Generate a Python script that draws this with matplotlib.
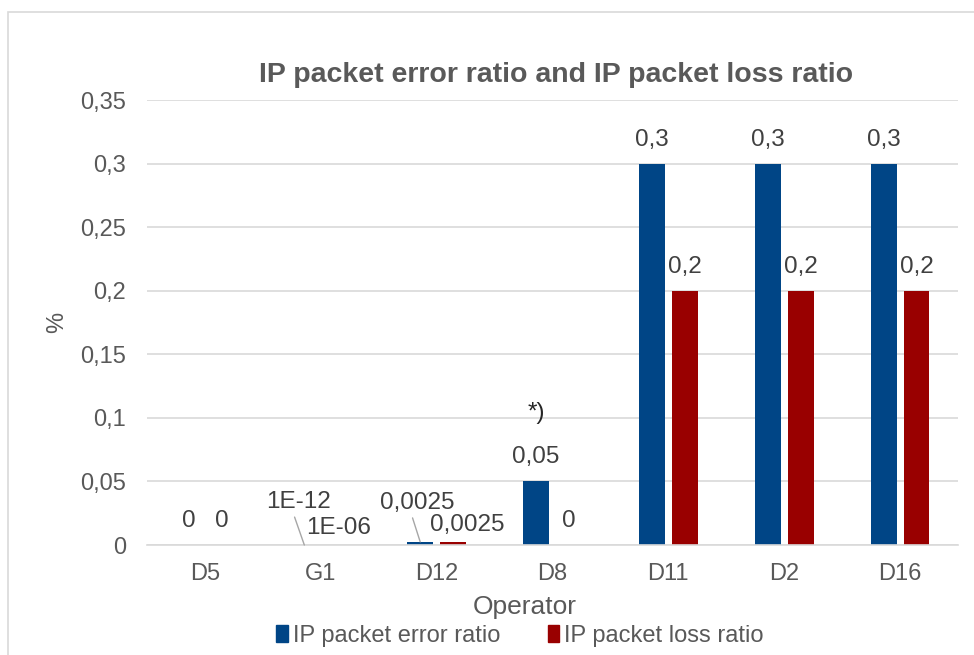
import matplotlib
matplotlib.use("Agg")
import matplotlib.pyplot as plt
from matplotlib.patches import Rectangle, Patch
import numpy as np

# -----------------------------------------------------------------------
# Data
# -----------------------------------------------------------------------
operators = ["D5", "G1", "D12", "D8", "D11", "D2", "D16"]
error_ratio = [0, 1e-12, 0.0025, 0.05, 0.3, 0.3, 0.3]
loss_ratio = [0, 1e-06, 0.0025, 0, 0.2, 0.2, 0.2]
y_ticks = [0, 0.05, 0.1, 0.15, 0.2, 0.25, 0.3, 0.35]

BLUE = "#004586"
RED = "#990000"
GRID = "#d9d9d9"
TXT = "#595959"
LBL = "#404040"

plt.rcParams["font.family"] = ["Liberation Sans", "DejaVu Sans"]

W, H = 974, 655
fig = plt.figure(figsize=(W / 100, H / 100), dpi=100)

# outer chart border (cut off at right/bottom like the reference)
fig.patches.append(Rectangle((8 / W, -0.1), 1.2, 1 - 12 / H + 0.1,
                             transform=fig.transFigure, fill=False,
                             edgecolor=GRID, lw=1.2))

ax = fig.add_axes([147 / W, 110 / H, 811 / W, 445 / H])

x = np.arange(len(operators))
bw = 0.224
off = 0.142
ax.bar(x - off, error_ratio, bw, color=BLUE, zorder=3)
ax.bar(x + off, loss_ratio, bw, color=RED, zorder=3)

ax.set_xlim(-0.5, len(operators) - 0.5)
ax.set_ylim(0, 0.35)
ax.set_yticks(y_ticks)
ax.set_yticklabels([f"{t:g}".replace(".", ",") for t in y_ticks])
ax.set_xticks(x)
ax.set_xticklabels(operators)
ax.tick_params(length=0, labelsize=17, colors=TXT)
ax.tick_params(axis="y", pad=15)
ax.tick_params(axis="x", pad=13)
ax.grid(axis="y", color=GRID, lw=1.2, zorder=0)
for s in ["top", "right", "left"]:
    ax.spines[s].set_visible(False)
ax.spines["bottom"].set_color(GRID)
ax.spines["bottom"].set_linewidth(1.2)
ax.spines["bottom"].set_zorder(4)


def fmt(v):
    return f"{v:g}".upper().replace(".", ",")


# data labels: (dx, dy) offsets in pixels from bar top, leader line flag
label_offsets = {
    (1, 0): (-6, 43, True),
    (1, 1): (1, 17, False),
    (2, 0): (-3, 39, True),
    (2, 1): (14, 17, False),
}
for s, (vals, sign) in enumerate([(error_ratio, -1), (loss_ratio, 1)]):
    for i, v in enumerate(vals):
        dx, dy, leader = label_offsets.get((i, s), (0, 24, False))
        kw = {}
        if leader:
            kw["arrowprops"] = dict(arrowstyle="-", color="#a6a6a6", lw=1,
                                    shrinkA=1, shrinkB=0,
                                    relpos=(0.42, 0.0))
        ax.annotate(fmt(v), xy=(i + sign * off, v), xytext=(dx, dy),
                    textcoords="offset pixels", ha="center", va="center",
                    fontsize=17.5, color=LBL, zorder=5, **kw)

ax.annotate("*)", xy=(3 - off, error_ratio[3]), xytext=(0, 68),
            textcoords="offset pixels", ha="center", va="center",
            fontsize=17.5, color="#262626")

fig.text(556 / W, 1 - 75 / H, "IP packet error ratio and IP packet loss ratio",
         ha="center", va="center", fontsize=20.5, fontweight="bold", color=TXT)
fig.text(57 / W, 1 - 322 / H, "%", rotation=90, ha="center", va="center",
         fontsize=17, color=TXT)
fig.text(525 / W, 1 - 607 / H, "Operator", ha="center", va="center",
         fontsize=19, color=TXT)

handles = [Patch(color=BLUE, label="IP packet error ratio"),
           Patch(color=RED, label="IP packet loss ratio")]
leg = fig.legend(handles=handles, loc="center", ncol=2, frameon=False,
                 bbox_to_anchor=(520 / W, 1 - 636 / H), fontsize=17,
                 handlelength=0.5, handleheight=0.7, handletextpad=0.2,
                 columnspacing=2.0, borderpad=0)
for t in leg.get_texts():
    t.set_color(TXT)

fig.savefig("out.png", dpi=100)
